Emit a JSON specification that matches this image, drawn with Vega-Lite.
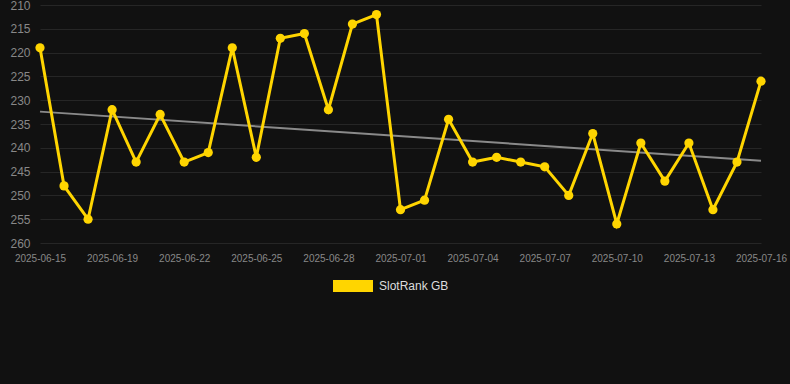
{
  "$schema": "https://vega.github.io/schema/vega-lite/v6.json",
  "width": 749,
  "height": 238,
  "autosize": {"type": "none"},
  "padding": {"left": 36, "top": 5, "right": 5, "bottom": 141},
  "background": "#111111",
  "config": {
    "view": {"stroke": null},
    "axis": {
      "gridColor": "#262626",
      "gridWidth": 1,
      "domain": false,
      "ticks": false,
      "labelColor": "#888888",
      "labelFont": "Liberation Sans"
    },
    "legend": {"labelFont": "Liberation Sans"}
  },
  "datasets": {
    "rank": [
      {"date": "2025-06-15", "rank": 219},
      {"date": "2025-06-17", "rank": 248},
      {"date": "2025-06-18", "rank": 255},
      {"date": "2025-06-19", "rank": 232},
      {"date": "2025-06-20", "rank": 243},
      {"date": "2025-06-21", "rank": 233},
      {"date": "2025-06-22", "rank": 243},
      {"date": "2025-06-23", "rank": 241},
      {"date": "2025-06-24", "rank": 219},
      {"date": "2025-06-25", "rank": 242},
      {"date": "2025-06-26", "rank": 217},
      {"date": "2025-06-27", "rank": 216},
      {"date": "2025-06-28", "rank": 232},
      {"date": "2025-06-29", "rank": 214},
      {"date": "2025-06-30", "rank": 212},
      {"date": "2025-07-01", "rank": 253},
      {"date": "2025-07-02", "rank": 251},
      {"date": "2025-07-03", "rank": 234},
      {"date": "2025-07-04", "rank": 243},
      {"date": "2025-07-05", "rank": 242},
      {"date": "2025-07-06", "rank": 243},
      {"date": "2025-07-07", "rank": 244},
      {"date": "2025-07-08", "rank": 250},
      {"date": "2025-07-09", "rank": 237},
      {"date": "2025-07-10", "rank": 256},
      {"date": "2025-07-11", "rank": 239},
      {"date": "2025-07-12", "rank": 247},
      {"date": "2025-07-13", "rank": 239},
      {"date": "2025-07-14", "rank": 253},
      {"date": "2025-07-15", "rank": 243},
      {"date": "2025-07-16", "rank": 226}
    ],
    "trend": [
      {"date": "2025-06-15", "rank": 232.4},
      {"date": "2025-07-16", "rank": 242.7}
    ]
  },
  "encoding": {
    "x": {
      "field": "date",
      "type": "ordinal",
      "sort": null,
      "scale": {
        "type": "point",
        "range": [4, 725],
        "padding": 0,
        "domain": ["2025-06-15", "2025-06-17", "2025-06-18", "2025-06-19", "2025-06-20", "2025-06-21", "2025-06-22", "2025-06-23", "2025-06-24", "2025-06-25", "2025-06-26", "2025-06-27", "2025-06-28", "2025-06-29", "2025-06-30", "2025-07-01", "2025-07-02", "2025-07-03", "2025-07-04", "2025-07-05", "2025-07-06", "2025-07-07", "2025-07-08", "2025-07-09", "2025-07-10", "2025-07-11", "2025-07-12", "2025-07-13", "2025-07-14", "2025-07-15", "2025-07-16"]
      },
      "axis": {
        "title": null,
        "labelAngle": 0,
        "labelFontSize": 10,
        "labelPadding": 10,
        "values": ["2025-06-15", "2025-06-19", "2025-06-22", "2025-06-25", "2025-06-28", "2025-07-01", "2025-07-04", "2025-07-07", "2025-07-10", "2025-07-13", "2025-07-16"]
      }
    },
    "y": {
      "field": "rank",
      "type": "quantitative",
      "scale": {"domain": [210, 260], "reverse": true, "zero": false},
      "axis": {
        "title": null,
        "values": [210, 215, 220, 225, 230, 235, 240, 245, 250, 255, 260],
        "labelFontSize": 12,
        "labelPadding": 6
      }
    }
  },
  "layer": [
    {
      "data": {"name": "trend"},
      "mark": {"type": "line", "color": "#8a8a8a", "strokeWidth": 2},
      "encoding": {}
    },
    {
      "data": {"name": "rank"},
      "mark": {"type": "line", "strokeWidth": 3},
      "encoding": {
        "color": {
          "datum": "SlotRank GB",
          "scale": {"range": ["#FFD500"]},
          "legend": {
            "title": null,
            "orient": "none",
            "legendX": 297,
            "legendY": 261,
            "symbolType": "M-1,-0.3H1V0.3H-1Z",
            "symbolSize": 1600,
            "symbolStrokeWidth": 0,
            "labelColor": "#dddddd",
            "labelFontSize": 12,
            "labelOffset": 6
          }
        }
      }
    },
    {
      "data": {"name": "rank"},
      "mark": {"type": "point", "filled": true, "size": 85, "opacity": 1},
      "encoding": {
        "color": {"datum": "SlotRank GB"}
      }
    }
  ]
}
